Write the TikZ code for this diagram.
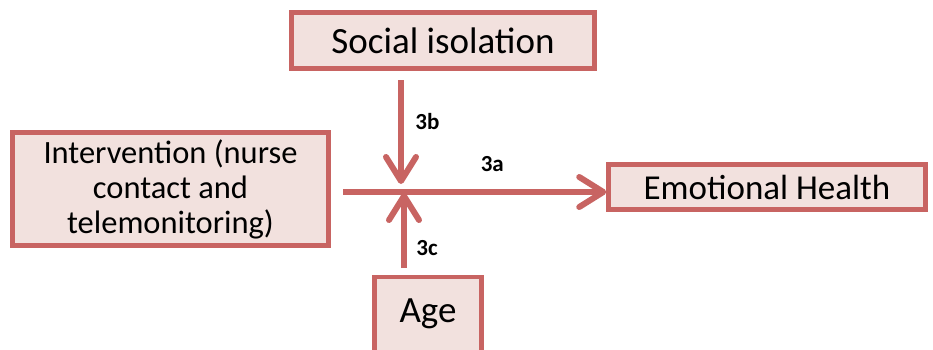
\documentclass[tikz,border=0pt]{standalone}
\usepackage{fontspec}
\setmainfont{Carlito}
\usetikzlibrary{arrows.meta}

\definecolor{boxline}{RGB}{200,100,98}
\definecolor{boxfill}{RGB}{242,225,222}

\begin{document}
\begin{tikzpicture}[x=1pt, y=-1pt,
    factor/.style={draw=boxline, fill=boxfill, line width=4.5pt, rectangle,
      inner sep=0pt, align=center, font=\fontsize{37}{40}\selectfont},
    path/.style={draw=boxline, line width=6pt,
      -{Straight Barb[length=24pt, width=30pt, round]}},
    pathlabel/.style={font=\fontsize{23}{26}\selectfont\bfseries}]
      \useasboundingbox (0,0) rectangle (933,349);

      \node (Social) [factor, minimum width=303pt, minimum height=56pt] at (443,40.5) {Social isolation};
      \node (Intervention) [factor, minimum width=316pt, minimum height=113pt,
        font=\fontsize{32.5}{35}\selectfont] at (170.5,189) {Intervention (nurse\\contact and\\telemonitoring)};
      \node (Emotional) [factor, minimum width=317pt, minimum height=45pt,
        font=\fontsize{35}{38}\selectfont] at (767,187) {Emotional Health};
      \node (Age) [factor, minimum width=107pt, minimum height=90pt] at (428,322) {};
      \node at (428,314) [font=\fontsize{37}{40}\selectfont] {Age};

      \coordinate (Start3a) at (343,192);
      \coordinate (Start3b) at (401,80);
      \coordinate (Start3c) at (404,268);

      \draw [path] (Start3a) -- (Start3a -| Emotional.west) node [pathlabel, pos=0.567, above=14pt] {3a};
      \draw [path] (Start3b) -- ([yshift=8pt]Start3b |- Start3a) node [pathlabel, pos=0.4, right=8pt] {3b};
      \draw [path] (Start3c) -- ([yshift=-1pt]Start3c |- Start3a) node [pathlabel, pos=0.26, right=6pt] {3c};
    \end{tikzpicture}
\end{document}
